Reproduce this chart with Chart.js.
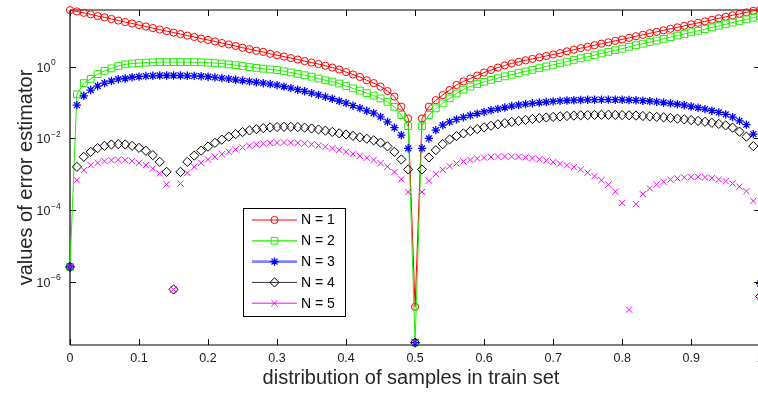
<!DOCTYPE html>
<html>
<head>
<meta charset="utf-8">
<script src="https://cdn.jsdelivr.net/npm/chart.js@4/dist/chart.umd.min.js"></script>
<style>
html,body{margin:0;padding:0;background:#fff;overflow:hidden;width:758px;height:393px;}
#wrap{width:766px;height:393px;}
canvas{display:block;}
</style>
</head>
<body>
<div id="wrap"><canvas id="c" width="766" height="393" style="width:766px;height:393px"></canvas></div>
<script>
// ---- data ----
const xValues = [0,0.01,0.02,0.03,0.04,0.05,0.06,0.07,0.08,0.09,
0.1,0.11,0.12,0.13,0.14,0.15,0.16,0.17,0.18,0.19,
0.2,0.21,0.22,0.23,0.24,0.25,0.26,0.27,0.28,0.29,
0.3,0.31,0.32,0.33,0.34,0.35,0.36,0.37,0.38,0.39,
0.4,0.41,0.42,0.43,0.44,0.45,0.46,0.47,0.48,0.49,
0.5,0.51,0.52,0.53,0.54,0.55,0.56,0.57,0.58,0.59,
0.6,0.61,0.62,0.63,0.64,0.65,0.66,0.67,0.68,0.69,
0.7,0.71,0.72,0.73,0.74,0.75,0.76,0.77,0.78,0.79,
0.8,0.81,0.82,0.83,0.84,0.85,0.86,0.87,0.88,0.89,
0.9,0.91,0.92,0.93,0.94,0.95,0.96,0.97,0.98,0.99,1];

const seriesN1 = [38,35,32,29,26,24,21.5,19.5,17.7,16.1,
14.6,13.3,12.0,10.9,9.9,9.0,8.2,7.4,6.8,6.1,
5.6,5.1,4.6,4.2,3.8,3.4,3.1,2.8,2.6,2.3,
2.1,1.93,1.75,1.59,1.44,1.31,1.19,1.07,0.95,0.84,
0.71,0.61,0.52,0.42,0.35,0.28,0.21,0.147,0.077,0.036,
2.0e-7,0.036,0.077,0.117,0.162,0.224,0.31,0.39,0.47,0.57,
0.69,0.81,0.95,1.09,1.24,1.37,1.51,1.66,1.83,2.0,
2.2,2.4,2.7,3.0,3.3,3.6,4.0,4.4,4.8,5.3,
5.8,6.4,7.1,7.8,8.6,9.4,10.4,11.5,12.6,13.9,
15.3,16.8,18.5,20.4,22.5,24.8,27.3,30,33,36.5,40];

const seriesN2 = [2.6e-6,0.17,0.35,0.46,0.625,0.77,0.90,1.05,1.17,1.23,
1.27,1.30,1.33,1.35,1.35,1.35,1.35,1.35,1.34,1.33,
1.30,1.27,1.23,1.17,1.11,1.05,0.98,0.93,0.885,0.845,
0.81,0.75,0.69,0.63,0.58,0.53,0.47,0.42,0.386,0.34,
0.29,0.25,0.216,0.184,0.157,0.131,0.105,0.076,0.045,0.022,
2.0e-8,0.022,0.045,0.069,0.095,0.131,0.18,0.23,0.28,0.33,
0.38,0.43,0.48,0.54,0.60,0.67,0.74,0.82,0.91,1.02,
1.13,1.25,1.39,1.55,1.72,1.90,2.1,2.35,2.6,2.9,
3.2,3.6,4.0,4.4,4.9,5.4,6.0,6.7,7.4,8.2,
9.1,10.1,11.2,12.5,13.9,15.4,17.1,19.0,21.1,23.4,25.9];

const seriesN3 = [2.6e-6,0.085,0.155,0.224,0.29,0.35,0.40,0.45,0.47,0.51,
0.53,0.55,0.56,0.57,0.57,0.57,0.57,0.56,0.557,0.543,
0.526,0.506,0.483,0.459,0.433,0.412,0.391,0.369,0.348,0.329,
0.308,0.28,0.254,0.229,0.207,0.184,0.164,0.145,0.128,0.111,
0.097,0.082,0.070,0.059,0.051,0.040,0.029,0.020,0.0124,0.0053,
2.0e-8,0.0053,0.010,0.017,0.0235,0.029,0.034,0.0388,0.0439,0.0493,
0.055,0.061,0.067,0.073,0.080,0.086,0.091,0.0955,0.100,0.104,
0.108,0.1115,0.1145,0.1167,0.118,0.1197,0.1205,0.121,0.121,0.1205,
0.1197,0.118,0.116,0.113,0.109,0.105,0.1006,0.0955,0.090,0.0846,
0.078,0.072,0.0658,0.0594,0.0532,0.0468,0.0394,0.031,0.0243,0.0132,8.9e-7];

const seriesN4 = [2.6e-6,0.00161,0.00306,0.00423,0.00536,0.00621,0.00679,0.00693,0.00679,0.00621,
0.00546,0.00451,0.00342,0.00222,0.00117,6.1e-7,0.00117,0.00222,0.00331,0.00456,
0.0059,0.00753,0.00925,0.0112,0.0132,0.0150,0.0167,0.0182,0.0194,0.0203,
0.0208,0.0211,0.0211,0.0207,0.0200,0.0190,0.0178,0.0165,0.0152,0.0139,
0.0129,0.0118,0.0108,0.0098,0.00885,0.00763,0.00601,0.00423,0.00259,0.00136,
2.0e-8,0.00136,0.00294,0.00471,0.00693,0.00938,0.0116,0.0138,0.0160,0.0182,
0.0204,0.0226,0.0248,0.0267,0.0289,0.0308,0.0329,0.0348,0.0367,0.0384,
0.0399,0.0412,0.0423,0.0434,0.0442,0.0448,0.0453,0.0456,0.0456,0.0453,
0.0448,0.0442,0.0434,0.0423,0.0412,0.0399,0.0386,0.0372,0.0355,0.0340,
0.0325,0.0308,0.0291,0.0273,0.0254,0.0231,0.0200,0.0155,0.0112,0.0061,3.9e-7];

const seriesN5 = [2.6e-6,6.8e-4,1.30e-3,1.80e-3,2.08e-3,2.32e-3,2.48e-3,2.52e-3,2.48e-3,2.32e-3,
2.08e-3,1.80e-3,1.45e-3,1.05e-3,5.2e-4,6.1e-7,5.5e-4,1.09e-3,1.61e-3,2.08e-3,
2.59e-3,3.06e-3,3.64e-3,4.23e-3,4.93e-3,5.61e-3,6.21e-3,6.71e-3,7.16e-3,7.48e-3,
7.63e-3,7.7e-3,7.63e-3,7.48e-3,7.21e-3,6.84e-3,6.37e-3,5.86e-3,5.32e-3,4.77e-3,
4.23e-3,3.72e-3,3.25e-3,2.85e-3,2.51e-3,2.04e-3,1.63e-3,1.15e-3,7.3e-4,3.2e-4,
2.0e-8,3.2e-4,6.6e-4,1.02e-3,1.34e-3,1.68e-3,2.0e-3,2.28e-3,2.51e-3,2.73e-3,
2.91e-3,3.04e-3,3.12e-3,3.14e-3,3.12e-3,3.06e-3,2.97e-3,2.82e-3,2.62e-3,2.40e-3,
2.18e-3,1.98e-3,1.77e-3,1.58e-3,1.36e-3,1.11e-3,8.85e-4,6.84e-4,5.12e-4,3.27e-4,
1.59e-4,1.67e-7,1.46e-4,2.78e-4,4.01e-4,5.19e-4,6.14e-4,7.07e-4,7.68e-4,8.14e-4,
8.41e-4,8.46e-4,8.19e-4,7.78e-4,7.16e-4,6.41e-4,5.53e-4,4.51e-4,3.37e-4,1.81e-4,3.9e-7];

const seriesLabels = ['N = 1','N = 2','N = 3','N = 4','N = 5'];
const xTickValues = [0,0.1,0.2,0.3,0.4,0.5,0.6,0.7,0.8,0.9,1];
const xTickLabels = ['0','0.1','0.2','0.3','0.4','0.5','0.6','0.7','0.8','0.9','1'];
const yTickValues = [1,1e-2,1e-4,1e-6];
const yTickExponents = ['0','\u22122','\u22124','\u22126'];
const xTitle = 'distribution of samples in train set';
const yTitle = 'values of error estimator';

// ---- styles ----
const FONT = '"Liberation Sans", Arial, Helvetica, sans-serif';
const styles = [
  {color:'#ff0000', pointStyle:'circle',  radius:3.6, bw:1,   line:true,  legendLine:'#ff0000', legendLW:1},
  {color:'#22ee00', pointStyle:'rect',    radius:4.8, bw:1,   line:true,  legendLine:'#22ee00', legendLW:1.2},
  {color:'#0000ff', pointStyle:'star',    radius:4.2, bw:1.3, line:false, legendLine:'rgba(90,90,255,0.75)', legendLW:2.6},
  {color:'#000000', pointStyle:'rectRot', radius:4.6, bw:1,   line:false, legendLine:'#333333', legendLW:1},
  {color:'#ff00ff', pointStyle:'crossRot',radius:4.4, bw:1,   line:false, legendLine:'#ff00ff', legendLW:1}
];
const allSeries = [seriesN1, seriesN2, seriesN3, seriesN4, seriesN5];

const datasets = allSeries.map((s, i) => ({
  label: seriesLabels[i],
  data: xValues.map((x, j) => ({x: x, y: s[j]})),
  showLine: styles[i].line,
  borderColor: styles[i].color,
  borderWidth: 1,
  backgroundColor: 'transparent',
  pointStyle: styles[i].pointStyle,
  pointRadius: styles[i].radius,
  pointBorderColor: styles[i].color,
  pointBackgroundColor: 'rgba(0,0,0,0)',
  pointBorderWidth: styles[i].bw,
  pointHoverRadius: styles[i].radius,
  tension: 0,
  clip: false,
  order: 5 - i
}));

const TICK_LEN = 6;

const framePlugin = {
  id: 'frame',
  beforeDraw(chart) {
    const ctx = chart.ctx;
    ctx.save();
    ctx.fillStyle = '#fff';
    ctx.fillRect(0, 0, chart.width, chart.height);
    ctx.restore();
  },
  beforeDatasetsDraw(chart) {
    const ctx = chart.ctx, xs = chart.scales.x, ys = chart.scales.y;
    const {left, right, top, bottom} = chart.chartArea;
    ctx.save();
    ctx.strokeStyle = '#000';
    ctx.lineWidth = 1.2;
    ctx.beginPath();
    ctx.moveTo(left, top); ctx.lineTo(right, top);
    ctx.moveTo(left, bottom); ctx.lineTo(right, bottom);
    ctx.moveTo(left, top); ctx.lineTo(left, bottom);
    ctx.moveTo(right, top); ctx.lineTo(right, bottom);
    ctx.stroke();
    ctx.lineWidth = 1;
    ctx.beginPath();
    xTickValues.forEach(v => {
      const px = Math.round(xs.getPixelForValue(v)) + 0.5;
      ctx.moveTo(px, bottom); ctx.lineTo(px, bottom - TICK_LEN);
      ctx.moveTo(px, top); ctx.lineTo(px, top + TICK_LEN);
    });
    yTickValues.forEach(v => {
      const py = Math.round(ys.getPixelForValue(v)) + 0.5;
      ctx.moveTo(left, py); ctx.lineTo(left + TICK_LEN, py);
      ctx.moveTo(right, py); ctx.lineTo(right - TICK_LEN, py);
    });
    ctx.stroke();

    // tick labels
    ctx.fillStyle = '#1a1a1a';
    ctx.font = '12.5px ' + FONT;
    ctx.textAlign = 'center';
    ctx.textBaseline = 'alphabetic';
    xTickValues.forEach((v, i) => {
      ctx.fillText(xTickLabels[i], xs.getPixelForValue(v), 362);
    });
    yTickValues.forEach((v, i) => {
      const py = ys.getPixelForValue(v);
      ctx.font = '12.5px ' + FONT;
      ctx.textAlign = 'right';
      ctx.fillText('10', 50.5, py + 5);
      ctx.font = '8.5px ' + FONT;
      ctx.textAlign = 'left';
      ctx.fillText(yTickExponents[i], 51, py - 1.5);
    });

    // axis titles
    ctx.fillStyle = '#262626';
    ctx.font = '20px ' + FONT;
    ctx.textAlign = 'center';
    ctx.fillText(xTitle, 411, 384);
    ctx.save();
    ctx.translate(32, (top + bottom) / 2);
    ctx.rotate(-Math.PI / 2);
    ctx.fillText(yTitle, 0, 0);
    ctx.restore();
    ctx.restore();
  },
  afterDatasetsDraw(chart) {
    const ctx = chart.ctx;
    ctx.save();
    const bx = 243.5, by = 208.5, bw = 102, bh = 108;
    ctx.fillStyle = '#fff';
    ctx.fillRect(bx, by, bw, bh);
    ctx.strokeStyle = '#000';
    ctx.lineWidth = 1;
    ctx.strokeRect(bx, by, bw, bh);
    seriesLabels.forEach((lab, i) => {
      const y = 220 + i * 20.8;
      const st = styles[i];
      ctx.strokeStyle = st.legendLine;
      ctx.lineWidth = st.legendLW;
      ctx.beginPath();
      ctx.moveTo(252, y); ctx.lineTo(297, y);
      ctx.stroke();
      ctx.strokeStyle = st.color;
      ctx.fillStyle = 'rgba(0,0,0,0)';
      ctx.lineWidth = st.bw;
      if (Chart.helpers && Chart.helpers.drawPoint) {
        Chart.helpers.drawPoint(ctx, {pointStyle: st.pointStyle, radius: st.radius, borderWidth: st.bw, rotation: 0}, 274.5, y);
      }
      ctx.fillStyle = '#000';
      ctx.font = '14px ' + FONT;
      ctx.textAlign = 'left';
      ctx.textBaseline = 'middle';
      ctx.fillText(lab, 301, y + 0.5);
    });
    ctx.restore();
  }
};

new Chart(document.getElementById('c'), {
  type: 'scatter',
  data: { datasets: datasets },
  options: {
    responsive: false,
    animation: false,
    devicePixelRatio: 1,
    layout: { padding: { top: 10, right: 1, left: 0, bottom: 0 } },
    plugins: { legend: { display: false }, tooltip: { enabled: false } },
    events: [],
    scales: {
      x: {
        type: 'linear', min: 0, max: 1,
        grid: { display: false }, border: { display: false },
        ticks: { display: false },
        afterFit(scale) { scale.height = 48; }
      },
      y: {
        type: 'logarithmic', min: 1.718e-8, max: 38.4,
        grid: { display: false }, border: { display: false },
        ticks: { display: false },
        afterFit(scale) { scale.width = 70; }
      }
    }
  },
  plugins: [framePlugin]
});
</script>
</body>
</html>
